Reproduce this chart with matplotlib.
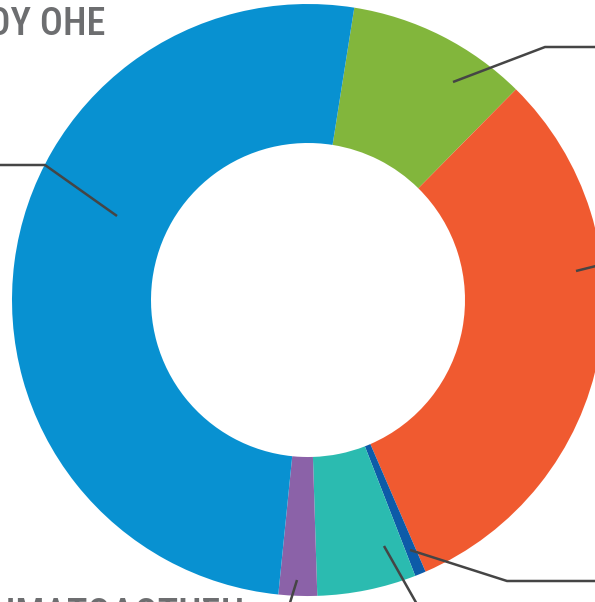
import matplotlib
matplotlib.use("Agg")
import matplotlib.pyplot as plt
from matplotlib import font_manager as fm

# shares of the donut, clockwise starting just right of the top
labels = ["green", "orange", "darkblue", "teal", "purple", "blue"]
shares = [9.9, 31.1, 0.6, 5.4, 2.1, 50.9]
colors = ["#82b63c", "#f05a30", "#0d5ba8", "#2bbbb0", "#8b62a8", "#0891d1"]
top_text = "ΤΟΥ ΟΗΕ"
bottom_text = "ΧΡΗΜΑΤΟΔΟΤΗΣΗ"


def pick_font():
    wanted = [("Roboto Condensed", 500), ("Roboto Condensed", 700),
              ("Fira Sans Condensed", 500), ("Open Sans Condensed", 700),
              ("DejaVu Sans", 700)]
    fonts = fm.fontManager.ttflist
    for name, weight in wanted:
        for f in fonts:
            if f.name == name and f.weight == weight and f.style == "normal" \
                    and (f.stretch == "condensed" or "Condensed" in name):
                return fm.FontProperties(fname=f.fname)
    return fm.FontProperties(family="DejaVu Sans", weight="bold")


W, H = 595, 602
fig = plt.figure(figsize=(W / 100, H / 100), dpi=100)
ax = fig.add_axes([0, 0, 1, 1])

cx, cy = 308, H - 300
R = 296
ax.pie(shares, colors=colors, startangle=81, counterclock=False,
       center=(cx, cy), radius=R, frame=True,
       wedgeprops=dict(width=R - 157, linewidth=0))
ax.set_xlim(0, W)
ax.set_ylim(0, H)
ax.set_aspect("equal")
ax.axis("off")


def leader(pts):
    xs = [p[0] for p in pts]
    ys = [H - p[1] for p in pts]
    ax.plot(xs, ys, color="#454545", lw=1.8, solid_capstyle="butt", clip_on=False)


leader([(453, 82), (545, 47), (600, 47)])
leader([(117, 216), (45, 165), (-5, 165)])
leader([(576, 271), (600, 265)])
leader([(410, 550), (507, 581), (600, 581)])
leader([(384, 546), (418, 606)])
leader([(297, 580), (289, 606)])

fp = pick_font()
fp.set_size(27.5)
ax.text(105, H - 35, top_text, ha="right", va="baseline", color="#6d6e70",
        fontproperties=fp)
ax.text(244, H - 626, bottom_text, ha="right", va="baseline", color="#6d6e70",
        fontproperties=fp)

fig.savefig("out.png", dpi=100)
